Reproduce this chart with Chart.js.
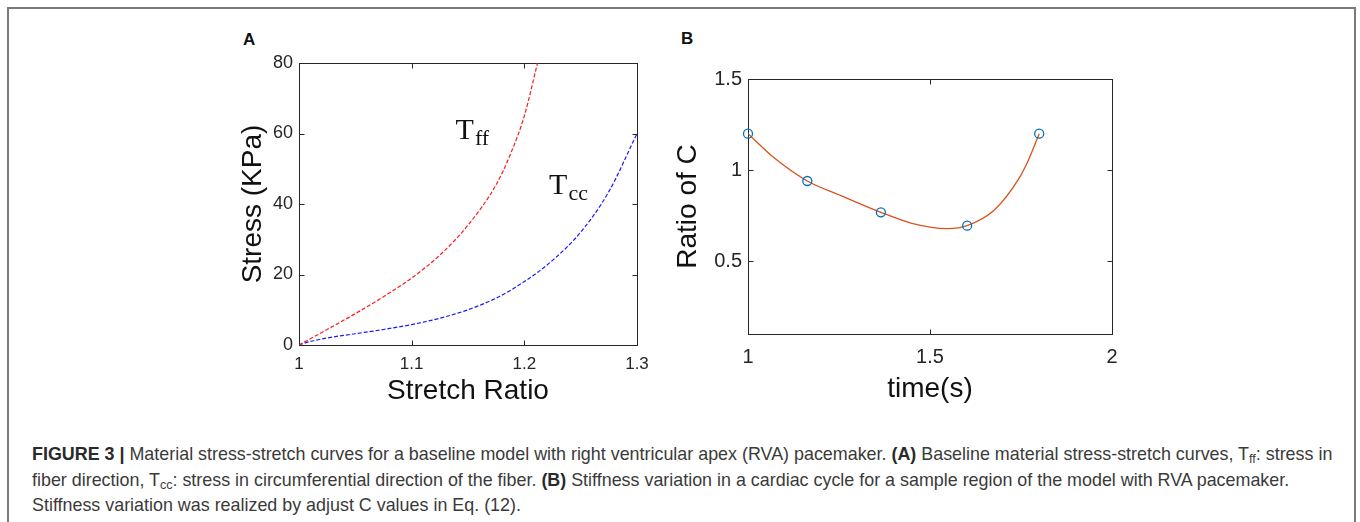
<!DOCTYPE html>
<html>
<head>
<meta charset="utf-8">
<script src="https://cdn.jsdelivr.net/npm/chart.js@4.4.0/dist/chart.umd.min.js"></script>
<style>
    body { margin:0; width:1360px; height:522px; background:#fff; position:relative; overflow:hidden; font-family:"Liberation Sans", Arial, sans-serif; }
    .marco { position:absolute; left:7px; top:7px; width:1349px; height:600px; border:2px solid #7a7a7a; box-sizing:border-box; }
    .letra { position:absolute; font-weight:bold; font-size:17px; line-height:17px; color:#111; }
    canvas { position:absolute; }
    .leyenda { position:absolute; left:32px; top:442px; color:#3a3a3a; font-size:17.9px; line-height:25.5px; white-space:nowrap; }
    .leyenda b { color:#2a2a2a; }
    .leyenda sub { font-size:0.7em; line-height:0; vertical-align:-0.25em; }
</style>
</head>
<body>
<div class="marco"></div>
<div class="letra" style="left:243px; top:31px">A</div>
<div class="letra" style="left:681px; top:30px">B</div>
<canvas id="graficoEsfuerzo" width="430" height="390" style="left:230px; top:20px"></canvas>
<canvas id="graficoRigidez" width="470" height="390" style="left:660px; top:20px"></canvas>
<div class="leyenda">
    <div><b>FIGURE 3 |</b> Material stress-stretch curves for a baseline model with right ventricular apex (RVA) pacemaker. <b>(A)</b> Baseline material stress-stretch curves, T<sub>ff</sub>: stress in</div>
    <div>fiber direction, T<sub>cc</sub>: stress in circumferential direction of the fiber. <b>(B)</b> Stiffness variation in a cardiac cycle for a sample region of the model with RVA pacemaker.</div>
    <div>Stiffness variation was realized by adjust C values in Eq. (12).</div>
</div>
<script>
// panel A: stress-stretch
const stretchTff = [1, 1.025, 1.05, 1.075, 1.1, 1.125, 1.15, 1.175, 1.1875, 1.2, 1.2117];
const stressTff  = [0, 4.4, 8.9, 13.7, 19, 25.5, 34, 45.5, 54, 65, 80];
const stretchTcc = [1, 1.01, 1.025, 1.05, 1.075, 1.1, 1.125, 1.15, 1.175, 1.2, 1.225, 1.25, 1.275, 1.3];
const stressTcc  = [0, 1.0, 2.0, 3.2, 4.4, 5.8, 7.6, 10, 13.3, 18, 24, 32, 43.5, 60];
const xTicksA  = [1, 1.1, 1.2, 1.3];
const xLabelsA = ['1', '1.1', '1.2', '1.3'];
const yTicksA  = [0, 20, 40, 60, 80];
const yLabelsA = ['0', '20', '40', '60', '80'];

// panel B: ratio of C over the cycle
const timeKnots  = [1, 1.163, 1.365, 1.602, 1.8];
const ratioKnots = [1.2, 0.94, 0.768, 0.695, 1.2];
const timeFit  = [1, 1.07, 1.163, 1.255, 1.365, 1.45, 1.548, 1.602, 1.676, 1.741, 1.77, 1.8];
const ratioFit = [1.2, 1.07, 0.94, 0.86, 0.768, 0.708, 0.679, 0.695, 0.779, 0.943, 1.053, 1.2];
const xTicksB  = [1, 1.5, 2];
const xLabelsB = ['1', '1.5', '2'];
const yTicksB  = [0.5, 1, 1.5];
const yLabelsB = ['0.5', '1', '1.5'];

const colorEje = '#262626';
Chart.defaults.font.family = '"Liberation Sans", Arial, sans-serif';
Chart.defaults.color = colorEje;

function puntos(xs, ys){
    return xs.map(function(x, i){ return { x: x, y: ys[i] }; });
}

// box with inward ticks on the four sides, matlab style
const marcoEjes = {
    id: 'marcoEjes',
    beforeDatasetsDraw(chart){
        const ctx = chart.ctx;
        const a = chart.chartArea;
        const sx = chart.scales.x, sy = chart.scales.y;
        const l = Math.round(a.left) + 0.5, r = Math.round(a.right) + 0.5;
        const t = Math.round(a.top) + 0.5, b = Math.round(a.bottom) + 0.5;
        ctx.save();
        ctx.strokeStyle = colorEje;
        ctx.lineWidth = 1;
        ctx.strokeRect(l, t, r - l, b - t);
        ctx.beginPath();
        sx.ticks.forEach(function(tk){
            const px = Math.round(sx.getPixelForValue(tk.value)) + 0.5;
            ctx.moveTo(px, b); ctx.lineTo(px, b - 5);
            ctx.moveTo(px, t); ctx.lineTo(px, t + 5);
        });
        sy.ticks.forEach(function(tk){
            const py = Math.round(sy.getPixelForValue(tk.value)) + 0.5;
            ctx.moveTo(l, py); ctx.lineTo(l + 5, py);
            ctx.moveTo(r, py); ctx.lineTo(r - 5, py);
        });
        ctx.stroke();
        ctx.restore();
    }
};

// T with subscript, placed in data units
const etiquetas = {
    id: 'etiquetas',
    afterDatasetsDraw(chart, args, opts){
        if(!opts.items) return;
        const ctx = chart.ctx;
        ctx.save();
        ctx.fillStyle = '#111';
        ctx.textBaseline = 'alphabetic';
        opts.items.forEach(function(it){
            const px = chart.scales.x.getPixelForValue(it.x);
            const py = chart.scales.y.getPixelForValue(it.y);
            ctx.font = '30px "Liberation Serif", "Times New Roman", serif';
            ctx.fillText(it.texto, px, py);
            const w = ctx.measureText(it.texto).width;
            ctx.font = '22px "Liberation Serif", "Times New Roman", serif';
            ctx.fillText(it.sub, px + w + 1, py + 6);
        });
        ctx.restore();
    }
};

function ejeLineal(min, max, ticks, labels, tamTick, pad, alto, ancho, titulo, padTitulo){
    return {
        type: 'linear',
        min: min,
        max: max,
        afterBuildTicks: function(s){ s.ticks = ticks.map(function(v){ return { value: v }; }); },
        afterFit: function(s){
            if(alto) s.height = alto;
            if(ancho) s.width = ancho;
        },
        grid: { display: false, drawTicks: false },
        border: { display: false },
        ticks: {
            padding: pad,
            color: colorEje,
            font: { size: tamTick },
            callback: function(v, i){ return labels[i]; }
        },
        title: {
            display: true,
            text: titulo,
            color: '#111',
            font: { size: 28 },
            padding: padTitulo
        }
    };
}

function graficoEsfuerzo(){
    const ctx = document.getElementById('graficoEsfuerzo');
    new Chart(ctx, {
        type: 'line',
        plugins: [marcoEjes, etiquetas],
        data: {
            datasets: [
                {
                    label: 'Tff',
                    data: puntos(stretchTff, stressTff),
                    borderColor: '#ff1a1a',
                    borderWidth: 1.2,
                    borderDash: [4, 2],
                    pointRadius: 0,
                    cubicInterpolationMode: 'monotone',
                    fill: false
                },
                {
                    label: 'Tcc',
                    data: puntos(stretchTcc, stressTcc),
                    borderColor: '#1a1aff',
                    borderWidth: 1.2,
                    borderDash: [4, 2],
                    pointRadius: 0,
                    cubicInterpolationMode: 'monotone',
                    fill: false
                }
            ]
        },
        options: {
            responsive: false,
            animation: false,
            layout: { padding: { left: 0, right: 23, top: 43, bottom: 0 } },
            plugins: {
                legend: { display: false },
                tooltip: { enabled: false },
                etiquetas: {
                    items: [
                        { x: 1.139, y: 58.4, texto: 'T', sub: 'ff' },
                        { x: 1.222, y: 42.8, texto: 'T', sub: 'cc' }
                    ]
                }
            },
            scales: {
                x: ejeLineal(1, 1.3, xTicksA, xLabelsA, 17, 9, 65, null, 'Stretch Ratio', { top: 0, bottom: 2 }),
                y: ejeLineal(0, 80, yTicksA, yLabelsA, 18, 6, null, 69, 'Stress (KPa)', { top: 6, bottom: 0 })
            }
        }
    });
}

function graficoRigidez(){
    const ctx = document.getElementById('graficoRigidez');
    new Chart(ctx, {
        type: 'line',
        plugins: [marcoEjes],
        data: {
            datasets: [
                {
                    label: 'C',
                    data: puntos(timeKnots, ratioKnots),
                    showLine: false,
                    pointStyle: 'circle',
                    pointRadius: 4.5,
                    pointBorderWidth: 1.3,
                    pointBorderColor: '#0072BD',
                    pointBackgroundColor: 'rgba(0,0,0,0)',
                    clip: false
                },
                {
                    label: 'ajuste',
                    data: puntos(timeFit, ratioFit),
                    borderColor: '#D95319',
                    borderWidth: 1.3,
                    pointRadius: 0,
                    cubicInterpolationMode: 'monotone',
                    fill: false
                }
            ]
        },
        options: {
            responsive: false,
            animation: false,
            layout: { padding: { left: 0, right: 18, top: 59, bottom: 0 } },
            plugins: {
                legend: { display: false },
                tooltip: { enabled: false }
            },
            scales: {
                x: ejeLineal(1, 2, xTicksB, xLabelsB, 20, 11, 76, null, 'time(s)', { top: 0, bottom: 4 }),
                y: ejeLineal(0.1, 1.5, yTicksB, yLabelsB, 20, 6, null, 88, 'Ratio of C', { top: 11, bottom: 0 })
            }
        }
    });
}

graficoEsfuerzo();
graficoRigidez();
</script>
</body>
</html>
